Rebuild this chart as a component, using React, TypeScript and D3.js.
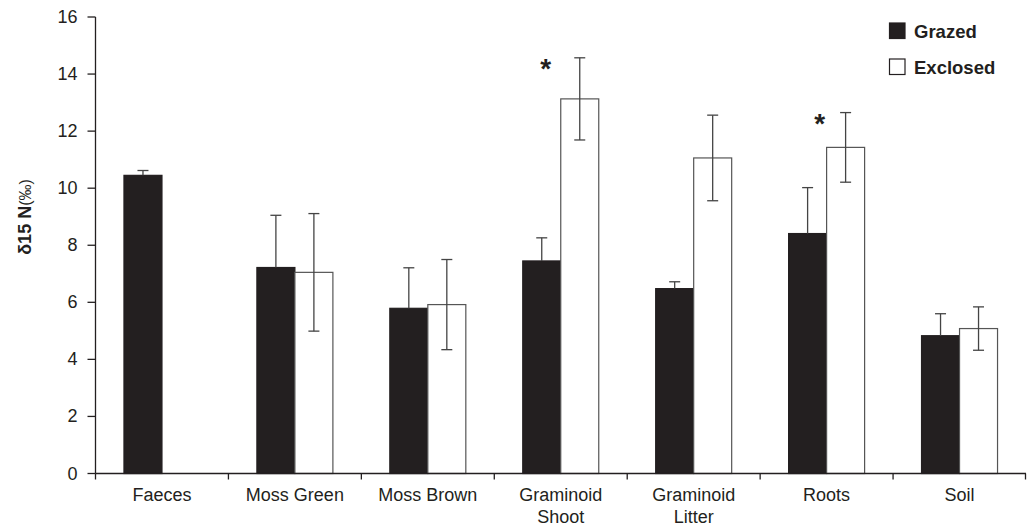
import React from "react";
import * as d3 from "d3";

const categories = ["Faeces", "Moss Green", "Moss Brown", "Graminoid Shoot", "Graminoid Litter", "Roots", "Soil"];
const grazed = [10.45, 7.22, 5.79, 7.45, 6.48, 8.41, 4.83];
const grazedSE = [0.17, 1.83, 1.42, 0.81, 0.24, 1.61, 0.77];
const exclosed = [null, 7.05, 5.92, 13.13, 11.06, 11.43, 5.08];
const exclosedSE = [null, 2.06, 1.58, 1.44, 1.5, 1.22, 0.76];
const starred = ["Graminoid Shoot", "Roots"];
const starOffset = [-34, -26];
const yTicks = [0, 2, 4, 6, 8, 10, 12, 14, 16];
const series = ["Grazed", "Exclosed"];

const W = 1027;
const H = 526;
const m = { top: 17, right: 1, bottom: 52.5, left: 95.5 };
const font = "'Liberation Sans', Arial, sans-serif";
const ink = "#231f20";

export default function App() {
  const x = d3.scaleBand().domain(categories).range([m.left, W - m.right]);
  const sub = d3.scaleBand().domain(series).range([0, 76]);
  const y = d3.scaleLinear().domain([0, 16]).range([H - m.bottom, m.top]);
  const bw = sub.bandwidth();
  const offs = (x.bandwidth() - 76) / 2;

  const bars: any[] = [];
  categories.forEach((c, i) => {
    [grazed, exclosed].forEach((vals, s) => {
      const v = vals[i];
      if (v == null) return;
      const se = (s === 0 ? grazedSE : exclosedSE)[i] as number;
      const x0 = (x(c) as number) + offs + (sub(series[s]) as number);
      bars.push({ c, s, v, se, x0 });
    });
  });

  return (
    <svg width={W} height={H} style={{ position: "absolute", left: 0, top: 0, background: "#fff" }}>
      {bars.map((b, i) => (
        <rect
          key={"b" + i}
          x={b.x0}
          y={y(b.v)}
          width={bw}
          height={y(0) - y(b.v)}
          fill={b.s === 0 ? ink : "#fff"}
          stroke={b.s === 0 ? ink : "#555"}
          strokeWidth={1.2}
        />
      ))}
      {bars.map((b, i) => {
        const cx = b.x0 + bw / 2;
        // grazed bars are black, so only the upper half of their error bar shows
        const lo = b.s === 0 ? b.v : b.v - b.se;
        return (
          <g key={"e" + i} stroke="#444" strokeWidth={1.3}>
            <line x1={cx} x2={cx} y1={y(lo)} y2={y(b.v + b.se)} />
            <line x1={cx - 5.5} x2={cx + 5.5} y1={y(b.v + b.se)} y2={y(b.v + b.se)} />
            {b.s === 1 && <line x1={cx - 5.5} x2={cx + 5.5} y1={y(b.v - b.se)} y2={y(b.v - b.se)} />}
          </g>
        );
      })}
      {starred.map((c, k) => {
        const i = categories.indexOf(c);
        const cx = (x(c) as number) + offs + (sub("Exclosed") as number) + bw / 2 + starOffset[k];
        return (
          <text key={"s" + k} x={cx} y={y((exclosed[i] as number) + (exclosedSE[i] as number)) + 20}
            textAnchor="middle" fontFamily={font} fontWeight="bold" fontSize={28} fill={ink}>*</text>
        );
      })}
      {/* axes */}
      <line x1={m.left} x2={m.left} y1={m.top} y2={y(0)} stroke={ink} strokeWidth={1.3} />
      <line x1={m.left} x2={W - m.right} y1={y(0)} y2={y(0)} stroke={ink} strokeWidth={1.3} />
      {yTicks.map((t) => (
        <g key={"yt" + t}>
          <line x1={m.left - 8} x2={m.left} y1={y(t)} y2={y(t)} stroke={ink} strokeWidth={1.3} />
          <text x={m.left - 18} y={y(t) + 6} textAnchor="end" fontFamily={font} fontSize={18} fill={ink}>{t}</text>
        </g>
      ))}
      {categories.map((c) => (
        <line key={"xt" + c} x1={x(c) as number} x2={x(c) as number} y1={y(0)} y2={y(0) + 6} stroke={ink} strokeWidth={1.3} />
      ))}
      <line x1={W - m.right - 0.5} x2={W - m.right - 0.5} y1={y(0)} y2={y(0) + 6} stroke={ink} strokeWidth={1.3} />
      {categories.map((c) => {
        const words = c.startsWith("Graminoid") ? c.split(" ") : [c];
        return (
          <text key={"xl" + c} x={(x(c) as number) + x.bandwidth() / 2} y={501} textAnchor="middle" fontFamily={font} fontSize={18} fill={ink}>
            {words.map((w, j) => (
              <tspan key={j} x={(x(c) as number) + x.bandwidth() / 2} dy={j === 0 ? 0 : 22}>{w}</tspan>
            ))}
          </text>
        );
      })}
      <text transform={`translate(31,217) rotate(-90)`} textAnchor="middle" fontFamily={font} fontSize={18} fill={ink}>
        <tspan fontWeight="bold">δ15 N</tspan>
        <tspan fontSize={16}>(‰)</tspan>
      </text>
      {/* legend */}
      {series.map((s, k) => (
        <g key={"lg" + s}>
          <rect x={889.5} y={23 + k * 36} width={15.5} height={15.5} fill={k === 0 ? ink : "#fff"} stroke={ink} strokeWidth={1.2} />
          <text x={914} y={37.5 + k * 36} fontFamily={font} fontWeight="bold" fontSize={18.5} fill={ink}>{s}</text>
        </g>
      ))}
    </svg>
  );
}
